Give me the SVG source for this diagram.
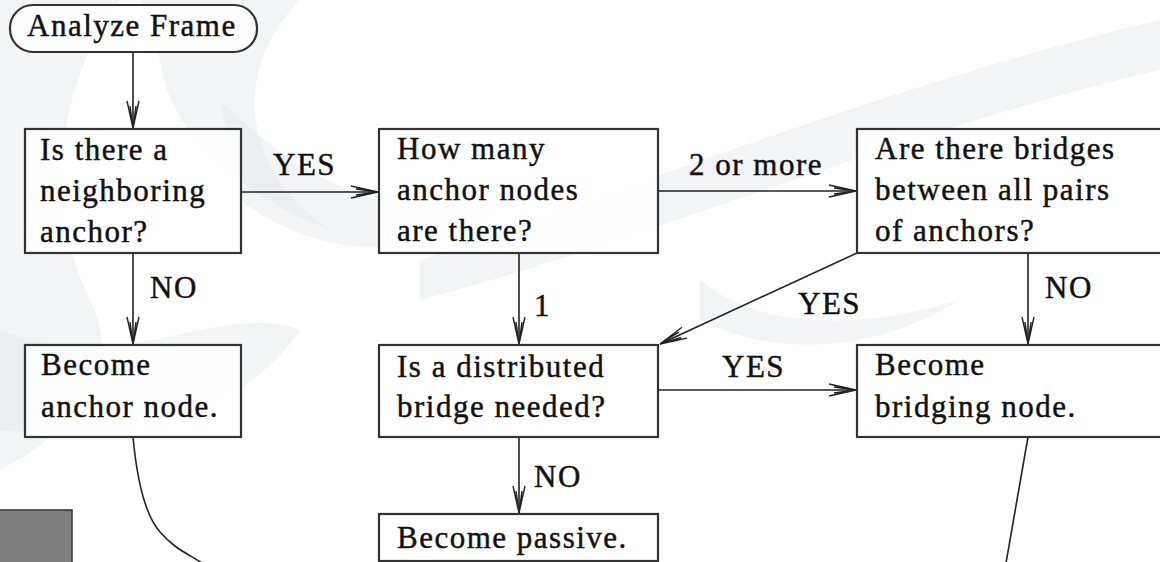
<svg xmlns="http://www.w3.org/2000/svg" width="1160" height="562" viewBox="0 0 1160 562">
<defs>
<style>
.t{font-family:"Liberation Serif","DejaVu Serif","Noto Serif",serif;font-size:31px;letter-spacing:1.5px;fill:#111;stroke:#111;stroke-width:0.45}
.box{fill:#fff;fill-opacity:0.85;stroke:#333;stroke-width:2.2}
.ln{fill:none;stroke:#222;stroke-width:1.6}
.wm{fill:#e4e7eb;opacity:0.45}
</style>
<marker id="ah" markerUnits="userSpaceOnUse" markerWidth="32" markerHeight="16" viewBox="-30 -8 32 16" refX="0" refY="0" orient="auto">
<path d="M-27,-6 L0,0 L-27,6 M-22,-3 L0,0 L-22,3" fill="none" stroke="#222" stroke-width="1.4"/>
</marker>
</defs>
<rect width="1160" height="562" fill="#fff"/>
<g id="watermark">
<path class="wm" d="M0,0 L120,0 C60,80 40,200 90,300 C130,380 60,440 0,470 Z"/>
<path class="wm" d="M140,0 L300,0 C240,60 230,160 330,230 C250,200 170,140 160,60 Z"/>
<path class="wm" d="M220,100 C320,200 420,230 520,190 C460,260 330,270 240,200 Z"/>
<path class="wm" d="M0,330 C120,380 220,300 300,330 C240,420 120,440 0,430 Z"/>
<path class="wm" d="M420,260 C600,200 900,80 1160,20 L1160,70 C900,130 650,240 420,300 Z" opacity="0.3"/>
<path class="wm" d="M700,280 C760,330 860,330 960,300 C880,350 780,360 700,320 Z" opacity="0.3"/>
</g>
<g id="connectors">
<line class="ln" x1="133" y1="52" x2="133" y2="128" marker-end="url(#ah)"/>
<line class="ln" x1="241" y1="192" x2="378" y2="192" marker-end="url(#ah)"/>
<line class="ln" x1="658" y1="191" x2="856" y2="191" marker-end="url(#ah)"/>
<line class="ln" x1="133" y1="253" x2="133" y2="344" marker-end="url(#ah)"/>
<line class="ln" x1="519" y1="253" x2="519" y2="344" marker-end="url(#ah)"/>
<line class="ln" x1="857" y1="253" x2="660" y2="344" marker-end="url(#ah)"/>
<line class="ln" x1="1028" y1="253" x2="1028" y2="344" marker-end="url(#ah)"/>
<line class="ln" x1="658" y1="390" x2="856" y2="390" stroke-width="2.6" marker-end="url(#ah)"/>
<line class="ln" x1="519" y1="437" x2="519" y2="513" marker-end="url(#ah)"/>
<path class="ln" d="M133,437 C137,480 145,515 160,532 S185,552 202,563"/>
<path class="ln" d="M1028,437 L1006,563"/>
<text class="t" x="273" y="175">YES</text>
<text class="t" x="689" y="175">2 or more</text>
<text class="t" x="150" y="298">NO</text>
<text class="t" x="534" y="316">1</text>
<text class="t" x="798" y="314">YES</text>
<text class="t" x="1045" y="298">NO</text>
<text class="t" x="722" y="377">YES</text>
<text class="t" x="534" y="487">NO</text>
</g>
<g id="start">
<rect class="box" x="10" y="5" width="247" height="47" rx="23" ry="23"/>
<text class="t" x="27" y="36">Analyze Frame</text>
</g>
<g id="neighbor">
<rect class="box" x="25" y="129" width="216" height="124"/>
<text class="t" x="40" y="160">Is there a</text>
<text class="t" x="40" y="201">neighboring</text>
<text class="t" x="40" y="242">anchor?</text>
</g>
<g id="howmany">
<rect class="box" x="379" y="129" width="279" height="124"/>
<text class="t" x="397" y="159">How many</text>
<text class="t" x="397" y="200">anchor nodes</text>
<text class="t" x="397" y="241">are there?</text>
</g>
<g id="bridges">
<rect class="box" x="857" y="129" width="310" height="124"/>
<text class="t" x="875" y="159">Are there bridges</text>
<text class="t" x="875" y="200">between all pairs</text>
<text class="t" x="875" y="241">of anchors?</text>
</g>
<g id="anchor">
<rect class="box" x="25" y="345" width="216" height="92"/>
<text class="t" x="41" y="375">Become</text>
<text class="t" x="41" y="417">anchor node.</text>
</g>
<g id="distributed">
<rect class="box" x="379" y="345" width="279" height="92"/>
<text class="t" x="397" y="377">Is a distributed</text>
<text class="t" x="397" y="417">bridge needed?</text>
</g>
<g id="bridging">
<rect class="box" x="857" y="345" width="310" height="92"/>
<text class="t" x="875" y="375">Become</text>
<text class="t" x="875" y="417">bridging node.</text>
</g>
<g id="passive">
<rect class="box" x="379" y="514" width="279" height="47"/>
<text class="t" x="397" y="548">Become passive.</text>
</g>
<g id="graybox">
<rect x="-2" y="510" width="74" height="60" fill="#7f7f7f" stroke="#333" stroke-width="1.5"/>
</g>
</svg>
